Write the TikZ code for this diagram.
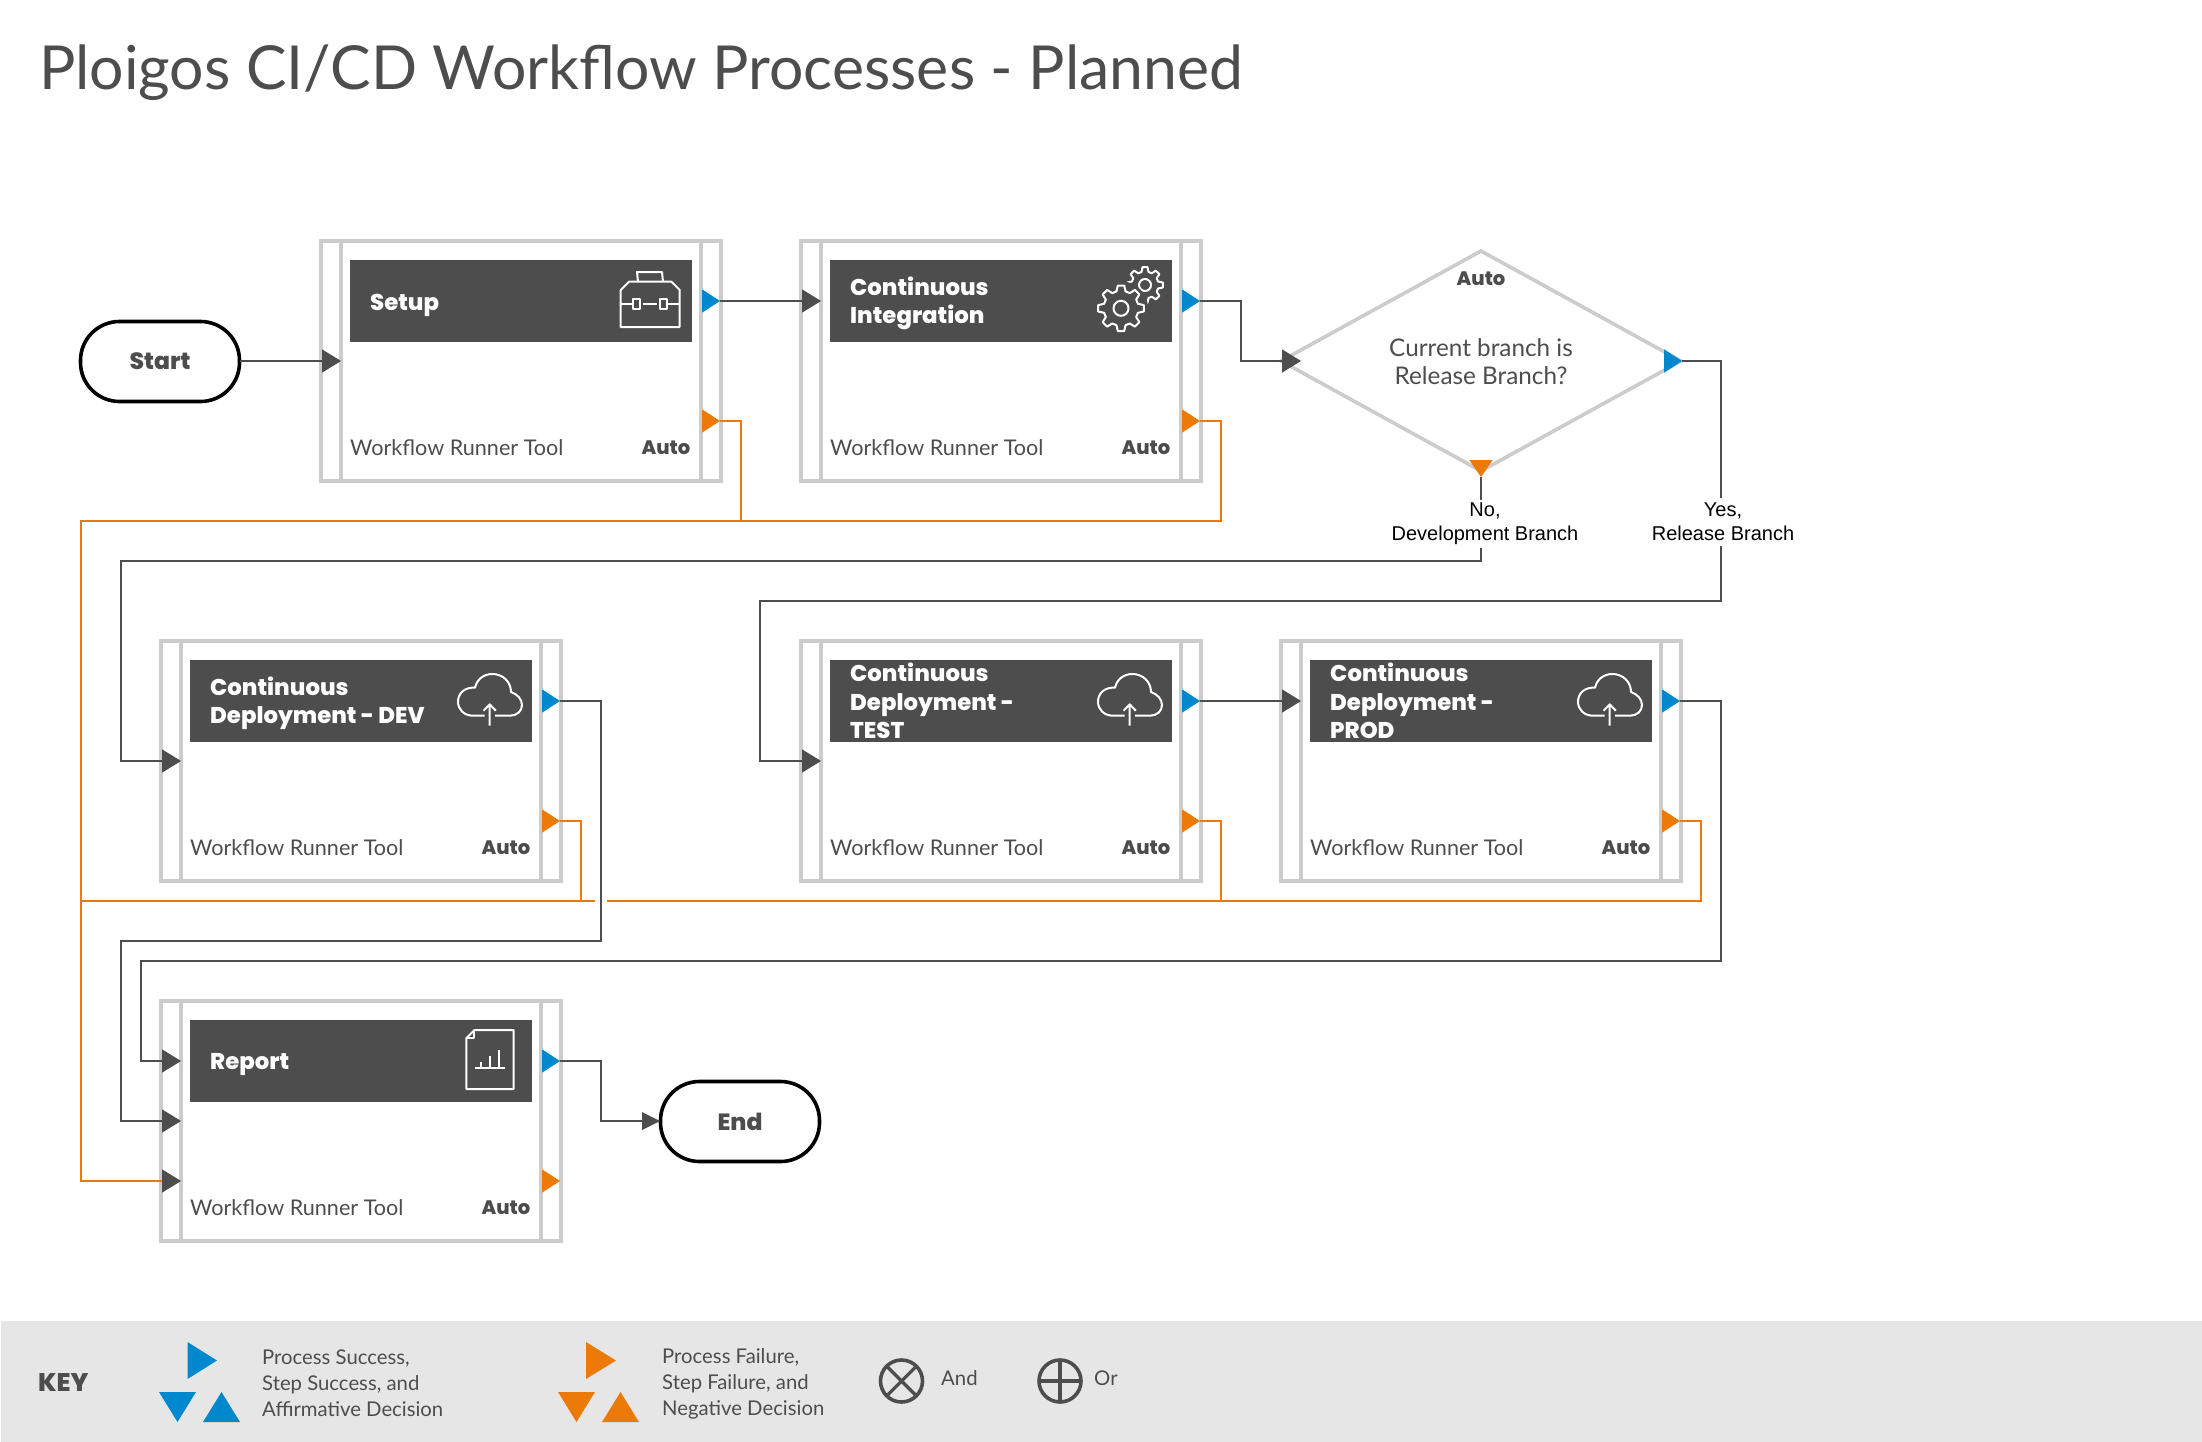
\documentclass[tikz,border=0pt]{standalone}
\usepackage{fontspec}
\usetikzlibrary{shapes.geometric,calc}
\setmainfont{Lato}
\newfontfamily\heavyfont{Poppins}[BoldFont={Poppins ExtraBold}]
\newfontfamily\arialfont{Liberation Sans}
\definecolor{ink}{HTML}{4D4D4D}
\definecolor{frame}{HTML}{CCCCCC}
\definecolor{okblue}{HTML}{0088CE}
\definecolor{failorange}{HTML}{EC7A08}
\definecolor{band}{HTML}{E6E6E6}
\newcommand{\fs}[2]{\fontsize{#1}{#2}\selectfont}
\tikzset{
  boxframe/.style={draw=frame,line width=3.6pt,minimum width=400pt,minimum height=240pt,inner sep=0pt,outer sep=0pt},
  boxline/.style={draw=frame,line width=3.6pt},
  header/.style={fill=ink,minimum width=342pt,minimum height=82pt,inner sep=0pt,outer sep=0pt},
  headtext/.style={text=white,align=left,inner sep=0pt,anchor=west,font=\heavyfont\bfseries\fs{22.8}{28.5}},
  wftext/.style={text=ink,inner sep=0pt,anchor=west,font=\fs{21.6}{28}},
  autotext/.style={text=ink,inner sep=0pt,font=\heavyfont\bfseries\fs{19.5}{24}},
  flow/.style={draw=ink,line width=2pt},
  failflow/.style={draw=failorange,line width=2pt},
  icon/.style={draw=white,line width=2pt,line join=round},
  terminal/.style={draw=black,fill=white,line width=3.6pt,minimum width=159pt,minimum height=80pt,rounded corners=39pt,inner sep=0pt,text=ink,font=\heavyfont\bfseries\fs{23.5}{28}},
  decision/.style={diamond,draw=frame,line width=3.6pt,aspect=1.818,minimum width=400pt,minimum height=220pt,inner sep=0pt,outer sep=0pt},
  branchlabel/.style={fill=white,align=center,inner sep=0pt,text=black,font=\arialfont\fs{20}{24}},
  keytext/.style={text=ink,align=left,anchor=west,inner sep=0pt,font=\fs{20.3}{26}},
  keycircle/.style={circle,draw=ink,line width=3.6pt,minimum size=42pt,inner sep=0pt,outer sep=0pt},
}
\newcommand{\intri}[1]{\fill[ink] (#1)+(0,-11.7) -- +(19,0) -- +(0,11.7) -- cycle;}
\newcommand{\oktri}[1]{\fill[okblue] (#1)+(-18,-11.7) -- +(0,0) -- +(-18,11.7) -- cycle;}
\newcommand{\failtri}[1]{\fill[failorange] (#1)+(-18,-11.7) -- +(0,0) -- +(-18,11.7) -- cycle;}
% name, left, top, title, title y, icon, input y
\newcommand{\procbox}[7]{%
  \begin{scope}[shift={(#2,#3)}]
    \node[boxframe] (#1) at (200,120) {};
    \draw[boxline] (20,0) -- (20,240) (380,0) -- (380,240);
    \node[header] (#1-head) at (200,60) {};
    \node[headtext] (#1-title) at (49,#5) {#4};
    \node[wftext] (#1-tool) at (29,207) {Workflow Runner Tool};
    \node[autotext,anchor=east] (#1-auto) at (369.5,207) {Auto};
    \coordinate (#1-ok) at (399,60);
    \coordinate (#1-fail) at (399,180);
    \coordinate (#1-in) at (1,#7);
    #6
  \end{scope}}
\newcommand{\cloudicon}{%
  \draw[icon] (323.7,74.7) -- (312,74.7) .. controls (303,74.7) and (297,68.5) .. (297,60.7)
    .. controls (297,52) and (304,46) .. (314,46.7) .. controls (316,38) and (323,33) .. (331.4,33)
    .. controls (342,33) and (350,41) .. (350,51) .. controls (356,53) and (361,58) .. (361,64)
    .. controls (361,70) and (356,74.7) .. (349,74.7) -- (334,74.7);
  \draw[icon] (328.7,84.7) -- (328.7,63.3) (322.6,69.7) -- (328.7,63.3) -- (334.8,69.7);}
\newcommand{\toolboxicon}{%
  \draw[icon] (299.7,86) -- (299.7,49) -- (308,40.7) -- (350.4,40.7) -- (358.7,49) -- (358.7,86) -- cycle;
  \draw[icon] (317,40.7) -- (316,31) -- (341,31) -- (342,40.7);
  \draw[icon] (299.7,63.3) -- (311,63.3) (321.7,63.3) -- (335.7,63.3) (347,63.3) -- (358.7,63.3);
  \draw[icon] (312,58) rectangle (319,68) (339,58) rectangle (346,68);}
\newcommand{\gearshape}[5]{% cx, cy, outer r, root r, hub r
  \begin{scope}[shift={(#1,#2)}]
    \draw[icon] (-15:#4) foreach \a in {0,45,...,315} { -- (\a-15:#4) -- (\a-8:#3) -- (\a+8:#3) -- (\a+15:#4) } -- cycle;
    \draw[icon] (0,0) circle (#5);
  \end{scope}}
\newcommand{\gearsicon}{%
  \gearshape{344}{44}{18}{13.5}{6}
  \fill[ink] (320,67.3) circle (27);
  \gearshape{320}{67.3}{23}{17.5}{7.5}}
\newcommand{\reporticon}{%
  \draw[icon] (305.4,37) -- (313.4,29) -- (352.6,29) -- (352.6,88) -- (305.4,88) -- cycle;
  \draw[icon] (305.4,37) -- (313.4,37) -- (313.4,29);
  \draw[icon] (314,67.3) -- (344,67.3) (320.4,67.3) -- (320.4,60.7) (329,67.3) -- (329,55) (338.3,67.3) -- (338.3,49);}
\begin{document}
\begin{tikzpicture}[x=1pt,y=-1pt]
\useasboundingbox (0,0) rectangle (2202,1442);
\fill[white] (0,0) rectangle (2202,1442);
\node[anchor=west,inner sep=0pt,text=ink,font=\fs{60.7}{70}] (title) at (39,73) {Ploigos CI/CD Workflow Processes - Planned};
%
\procbox{setup}{321}{241}{Setup}{64}{\toolboxicon}{120}
\procbox{ci}{801}{241}{Continuous\\Integration}{62.5}{\gearsicon}{60}
\procbox{dev}{161}{641}{Continuous\\Deployment - DEV}{62.5}{\cloudicon}{120}
\procbox{test}{801}{641}{Continuous\\Deployment -\\TEST}{60}{\cloudicon}{120}
\procbox{prod}{1281}{641}{Continuous\\Deployment -\\PROD}{60}{\cloudicon}{60}
\procbox{report}{161}{1001}{Report}{64}{\reporticon}{120}
\coordinate (report-in2) at (162,1061);
\coordinate (report-in1) at (162,1121);
\coordinate (report-in3) at (162,1181);
%
\node[terminal] (start) at (160,361.5) {Start};
\node[terminal] (end) at (740,1121.5) {End};
\node[decision] (dec) at (1481,361) {};
\node[autotext] (dec-auto) at (1481,279) {Auto};
\node[text=ink,align=center,inner sep=0pt,font=\fs{24.3}{28}] (dec-q) at (1481,362) {Current branch is\\Release Branch?};
\coordinate (dec-in) at (1282,361);
\coordinate (dec-ok) at (1682,361);
\coordinate (dec-fail) at (1481,477);
%
% bends
\coordinate (b-ci) at (1241,361);
\coordinate (b-yes1) at (1721,601);
\coordinate (b-yes2) at (760,601);
\coordinate (b-no1) at (1481,561);
\coordinate (b-no2) at (121,561);
\coordinate (b-dev1) at (601,941);
\coordinate (b-dev2) at (121,941);
\coordinate (b-prod1) at (1721,961);
\coordinate (b-prod2) at (141,961);
\coordinate (b-rep) at (601,1121);
\coordinate (bus1) at (81,521);
\coordinate (bus2) at (81,901);
\coordinate (gap-l) at (595,901);
\coordinate (gap-r) at (607,901);
\coordinate (bus3) at (1701,901);
\coordinate (f-setup) at (741,521);
\coordinate (f-ci) at (1221,521);
\coordinate (f-dev) at (581,901);
\coordinate (f-test) at (1221,901);
\coordinate (end-in) at (642,1121);
\coordinate (start-out) at (240,361);
%
\draw[failflow] (setup-fail) -| (f-setup);
\draw[failflow] (ci-fail) -| (f-ci) -- (bus1) |- (report-in3);
\draw[failflow] (dev-fail) -| (f-dev);
\draw[failflow] (test-fail) -| (f-test);
\draw[failflow] (prod-fail) -| (bus3) -- (gap-r);
\draw[failflow] (gap-l) -- (bus2);
%
\draw[flow] (start-out) -- (setup-in);
\draw[flow] (setup-ok) -- (ci-in);
\draw[flow] (ci-ok) -| (b-ci) -- (dec-in);
\draw[flow] (dec-ok) -| (b-yes1) -- (b-yes2) |- (test-in);
\draw[flow] (dec-fail) -- (b-no1) -- (b-no2) |- (dev-in);
\draw[flow] (test-ok) -- (prod-in);
\draw[flow] (dev-ok) -| (b-dev1) -- (b-dev2) |- (report-in1);
\draw[flow] (prod-ok) -| (b-prod1) -- (b-prod2) |- (report-in2);
\draw[flow] (report-ok) -| (b-rep) -- (end-in);
%
\node[branchlabel,minimum height=48pt] (no-label) at (1485,523.5) {No,\\Development Branch};
\node[branchlabel,minimum height=48pt] (yes-label) at (1723,522) {Yes,\\Release Branch};
%
\intri{setup-in}\intri{ci-in}\intri{dev-in}\intri{test-in}\intri{prod-in}
\intri{report-in2}\intri{report-in1}\intri{report-in3}
\intri{dec-in}
\fill[ink] (end-in)+(0,-9) -- +(18,0) -- +(0,9) -- cycle;
\oktri{setup-ok}\oktri{ci-ok}\oktri{dev-ok}\oktri{test-ok}\oktri{prod-ok}\oktri{report-ok}\oktri{dec-ok}
\failtri{setup-fail}\failtri{ci-fail}\failtri{dev-fail}\failtri{test-fail}\failtri{prod-fail}\failtri{report-fail}
\fill[failorange] (dec-fail)+(-11.7,-17) -- +(0,0) -- +(11.7,-17) -- cycle;
%
% key
\fill[band] (1,1321) rectangle (2202,1442);
\node[anchor=west,inner sep=0pt,text=ink,font=\heavyfont\bfseries\fs{25.5}{26}] (key) at (38,1382.5) {KEY};
\fill[okblue] (187.5,1342) -- (217,1360.5) -- (187.5,1379) -- cycle;
\fill[okblue] (159,1392) -- (196,1392) -- (177.5,1422) -- cycle;
\fill[okblue] (203,1422) -- (240,1422) -- (221.5,1392) -- cycle;
\node[keytext] (key-ok) at (262,1383) {Process Success,\\Step Success, and\\Affirmative Decision};
\fill[failorange] (586,1342) -- (616,1360.5) -- (586,1379) -- cycle;
\fill[failorange] (558,1392) -- (595,1392) -- (576.5,1422) -- cycle;
\fill[failorange] (602,1422) -- (639,1422) -- (620.5,1392) -- cycle;
\node[keytext] (key-fail) at (662,1384) {Process Failure,\\Step Failure, and\\Negative Decision};
\node[keycircle] (key-and) at (901.5,1381) {};
\draw[ink,line width=3.2pt] (key-and.north west) -- (key-and.south east) (key-and.north east) -- (key-and.south west);
\node[keytext] (key-and-text) at (941,1378) {And};
\node[keycircle] (key-or) at (1060,1381) {};
\draw[ink,line width=3.2pt] (key-or.north) -- (key-or.south) (key-or.west) -- (key-or.east);
\node[keytext] (key-or-text) at (1094,1378) {Or};
\end{tikzpicture}
\end{document}
